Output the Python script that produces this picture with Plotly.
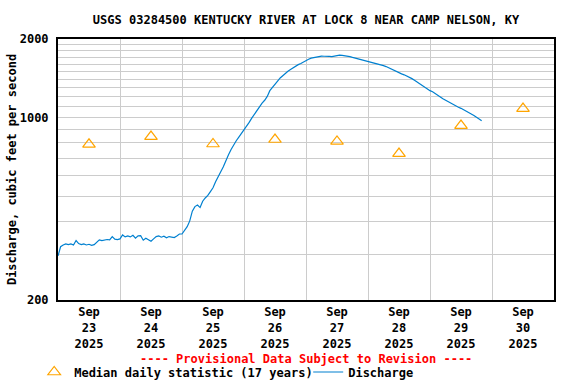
import pandas as pd
import plotly.graph_objects as go

# ---- data ----
median_dates = ["2025-09-23 12:00", "2025-09-24 12:00", "2025-09-25 12:00", "2025-09-26 12:00",
                "2025-09-27 12:00", "2025-09-28 12:00", "2025-09-29 12:00", "2025-09-30 12:00"]
median_values = [790, 846, 792, 824, 810, 728, 932, 1083]

discharge_start = "2025-09-23 00:00"
discharge_values = [
    # Sep 23
    295, 320, 325, 328, 326, 328, 325, 338, 329, 326, 328, 325,
    327, 324, 326, 333, 340, 338, 340, 341, 340, 350, 342, 341,
    # Sep 24
    343, 355, 349, 352, 349, 354, 345, 352, 353, 339, 345, 341,
    336, 343, 350, 352, 348, 351, 346, 350, 348, 347, 352, 358,
    # Sep 25
    358, 368, 382, 402, 438, 456, 462, 452, 478, 492, 503, 520,
    538, 568, 598, 620, 648, 688, 720, 755, 788, 815, 842, 868,
    # Sep 26
    898, 928, 958, 995, 1030, 1068, 1105, 1136, 1165, 1205, 1268, 1300,
    1333, 1378, 1418, 1450, 1485, 1505, 1528, 1552, 1575, 1595, 1612, 1635,
    # Sep 27
    1658, 1672, 1690, 1698, 1705, 1712, 1720, 1718, 1722, 1715, 1712, 1720,
    1728, 1736, 1730, 1725, 1722, 1712, 1700, 1690, 1684, 1675, 1665, 1655,
    # Sep 28
    1648, 1635, 1618, 1610, 1600, 1590, 1582, 1568, 1550, 1535, 1518, 1500,
    1488, 1470, 1458, 1445, 1428, 1410, 1390, 1368, 1350, 1330, 1308, 1290,
    # Sep 29
    1268, 1255, 1238, 1222, 1200, 1180, 1165, 1148, 1130, 1118, 1105, 1095,
    1085, 1072, 1060, 1045, 1030, 1018, 1002, 988, 972,
]
discharge_times = pd.date_range(discharge_start, periods=len(discharge_values), freq="h")

x_tick_vals = ["2025-09-%02d 12:00" % d for d in range(23, 31)]
x_tick_text = ["Sep<br>%d<br>2025" % d for d in range(23, 31)]
x_grid_vals = ["2025-09-%02d 00:00" % d for d in range(24, 31)]
y_tick_vals = [200, 1000, 2000]
y_grid_vals = [v for v in range(300, 2000, 100) if v != 1000]

FONT = "DejaVu Sans Mono"

fig = go.Figure()
fig.add_trace(go.Scatter(
    x=median_dates, y=median_values, mode="markers",
    name="Median daily statistic (17 years)",
    marker=dict(symbol="triangle-up-open", size=11, color="#FFA500", line=dict(width=1.2)),
))
fig.add_trace(go.Scatter(
    x=discharge_times, y=discharge_values, mode="lines",
    name="Discharge", line=dict(color="#0080D0", width=1.2),
))

fig.update_layout(
    width=576, height=384,
    margin=dict(l=58, r=22, t=39, b=84, autoexpand=False),
    paper_bgcolor="white", plot_bgcolor="white",
    font=dict(family=FONT, size=12, color="black", weight="bold"),
    title=dict(text="USGS 03284500 KENTUCKY RIVER AT LOCK 8 NEAR CAMP NELSON, KY",
               xref="paper", x=0.5, xanchor="center", y=1 - 20 / 384, yanchor="middle",
               font=dict(family=FONT, size=12, weight="bold")),
    showlegend=True,
    legend=dict(orientation="h", x=-0.048, xanchor="left", y=-(372 - 300) / 261, yanchor="middle",
                font=dict(family=FONT, size=12, weight="bold"),
                bgcolor="rgba(0,0,0,0)", itemwidth=30, tracegroupgap=0,
                entrywidth=229, entrywidthmode="pixels"),
    annotations=[dict(text="---- Provisional Data Subject to Revision ----",
                      xref="paper", yref="paper", x=0.5, y=-(359 - 300) / 261,
                      xanchor="center", yanchor="middle", showarrow=False,
                      font=dict(family=FONT, size=12, color="red", weight="bold"))],
)

fig.update_xaxes(
    type="date", range=["2025-09-23 00:00", "2025-10-01 00:00"], automargin=False,
    tickmode="array", tickvals=x_tick_vals, ticktext=x_tick_text, ticks="",
    showgrid=False, showline=True, linecolor="black", linewidth=2, mirror=True,
    minor=dict(tickvals=x_grid_vals, showgrid=True, gridcolor="#CCCCCC", gridwidth=1, ticks=""),
    tickfont=dict(family=FONT, size=12, weight="bold"), zeroline=False,
)
fig.update_yaxes(
    type="log", range=[2.30103, 3.30103], automargin=False,
    tickmode="array", tickvals=y_tick_vals, ticktext=["200", "1000", "2000"], ticks="",
    ticklabelstandoff=5,
    showgrid=True, gridcolor="#CCCCCC", gridwidth=1,
    showline=True, linecolor="black", linewidth=2, mirror=True,
    minor=dict(tickvals=y_grid_vals, showgrid=True, gridcolor="#CCCCCC", gridwidth=1, ticks=""),
    tickfont=dict(family=FONT, size=12, weight="bold"), zeroline=False,
    title=dict(text="Discharge, cubic feet per second", standoff=0,
               font=dict(family=FONT, size=12, weight="bold")),
)

fig.write_html("out.html", config={"displayModeBar": False},
               post_script="document.body.style.margin='0';")
